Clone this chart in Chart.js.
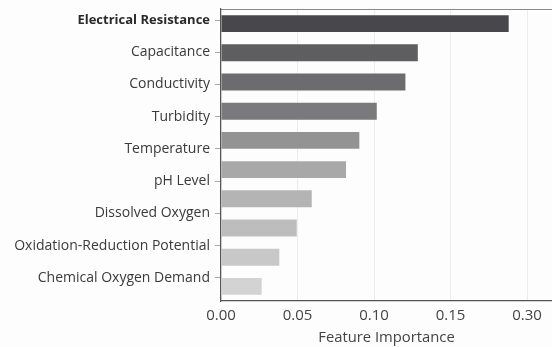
<!DOCTYPE html>
<html>
<head>
<meta charset="utf-8">
<script src="https://cdn.jsdelivr.net/npm/chart.js@4/dist/chart.umd.min.js"></script>
<style>
  html, body { margin: 0; padding: 0; background: #fdfdfd; }
  #wrap { width: 552px; height: 347px; }
</style>
</head>
<body>
<div id="wrap"><canvas id="chart"></canvas></div>
<script>
// Feature names shown on the left (9 labels)
const featureNames = [
    'Electrical Resistance',
    'Capacitance',
    'Conductivity',
    'Turbidity',
    'Temperature',
    'pH Level',
    'Dissolved Oxygen',
    'Oxidation-Reduction Potential',
    'Chemical Oxygen Demand',
];

// Bar values, top to bottom (10 bars)
const importance = [0.188, 0.1286, 0.1205, 0.1018, 0.0904, 0.0817, 0.0593, 0.0495, 0.0381, 0.0266];

// x tick values and the text printed under them
const xTickValues = [0, 0.05, 0.10, 0.15, 0.20];
const xTickLabels = ['0.00', '0.05', '0.10', '0.15', '0.30'];

const barColors = [
    '#48484c', '#5e5e61', '#6c6c6e', '#7a7a7c', '#939394',
    '#a8a8a8', '#b4b4b4', '#bdbdbd', '#c8c8c8', '#d3d3d3',
];

const font = "'Open Sans', 'Noto Sans', sans-serif";

new Chart(document.getElementById('chart'), {
    type: 'bar',
    data: {
        labels: importance.map((_, i) => i),
        datasets: [{
            data: importance,
            backgroundColor: barColors,
            borderWidth: 0,
            barPercentage: 0.58,
            categoryPercentage: 1.0,
            yAxisID: 'y',
        }],
    },
    options: {
        indexAxis: 'y',
        responsive: true,
        maintainAspectRatio: false,
        animation: false,
        layout: {padding: {top: 9, right: 0, bottom: 0, left: 0}},
        scales: {
            x: {
                type: 'linear',
                position: 'bottom',
                min: 0,
                max: 0.2163,
                afterBuildTicks: (axis) => {
                    axis.ticks = xTickValues.map(v => ({value: v}));
                },
                afterFit: (axis) => {
                    axis.height = 46;
                    axis.paddingLeft = 0;
                    axis.paddingRight = 0;
                },
                grid: {color: '#ececec', drawTicks: false, lineWidth: 1},
                border: {display: true, color: '#555', width: 1.2},
                ticks: {
                    padding: 6,
                    color: '#444',
                    font: {family: font, size: 15},
                    callback: (v, i) => xTickLabels[i],
                },
                title: {
                    display: true,
                    text: 'Feature Importance',
                    color: '#444',
                    font: {family: font, size: 14.8},
                    padding: {top: 3, bottom: 0},
                },
            },
            x2: {
                type: 'linear',
                position: 'top',
                min: 0,
                max: 0.2163,
                afterFit: (axis) => {
                    axis.height = 0;
                },
                grid: {display: false, drawTicks: false},
                ticks: {display: false, padding: 0},
                border: {display: true, color: '#888', width: 1},
            },
            y: {
                type: 'category',
                display: false,
            },
            y2: {
                type: 'linear',
                position: 'left',
                reverse: true,
                offset: false,
                min: -0.342,
                max: 8.716,
                afterBuildTicks: (axis) => {
                    axis.ticks = featureNames.map((_, i) => ({value: i}));
                },
                afterFit: (axis) => {
                    axis.width = 221;
                    axis.paddingTop = 0;
                    axis.paddingBottom = 0;
                },
                grid: {
                    offset: false,
                    drawOnChartArea: false,
                    drawTicks: true,
                    tickLength: 6,
                    color: '#aaa',
                },
                border: {display: true, color: '#555', width: 1.2},
                ticks: {
                    padding: 5,
                    color: (ctx) => ctx.index === 0 ? '#2a2a2a' : '#3a3a3a',
                    font: (ctx) => ({
                        family: font,
                        size: ctx.index === 0 ? 13 : 14,
                        weight: ctx.index === 0 ? 'bold' : 'normal',
                    }),
                    callback: (v) => featureNames[v],
                },
            },
        },
        plugins: {
            legend: {display: false},
            tooltip: {enabled: false},
        },
    },
});
</script>
</body>
</html>
